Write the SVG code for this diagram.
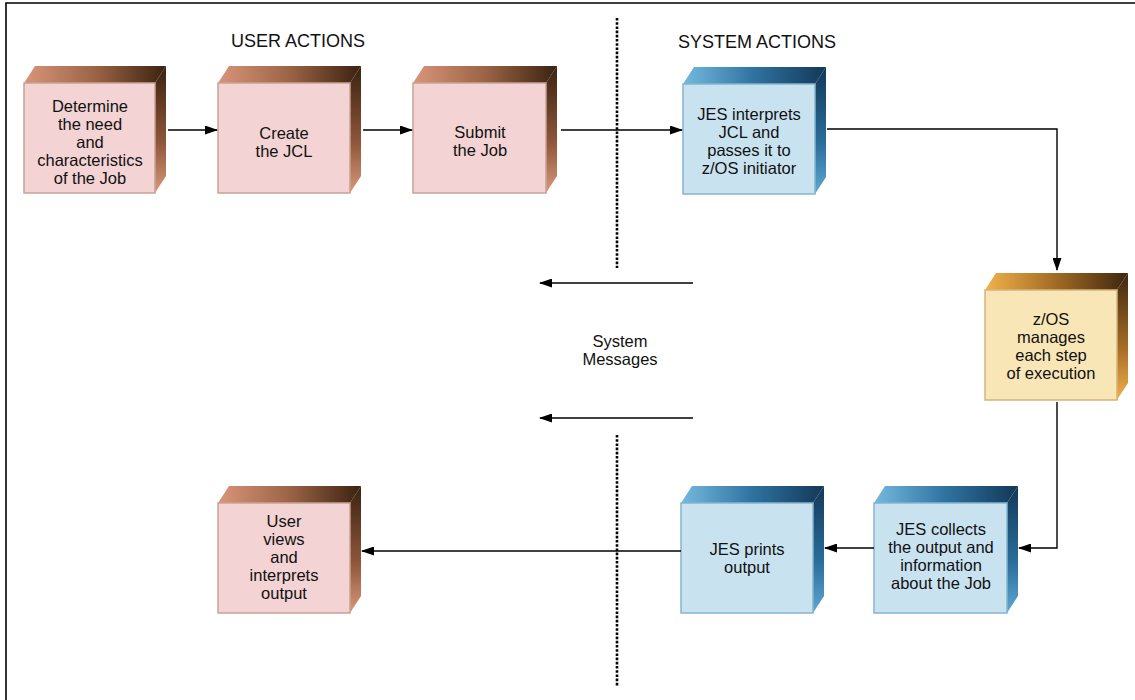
<svg xmlns="http://www.w3.org/2000/svg" width="1135" height="700" viewBox="0 0 1135 700">
<defs>
  <linearGradient id="pTop" x1="0" y1="0" x2="1" y2="0">
    <stop offset="0" stop-color="#D9957A"/>
    <stop offset="0.5" stop-color="#9C6446"/>
    <stop offset="1" stop-color="#3A2210"/>
  </linearGradient>
  <linearGradient id="pSide" x1="0" y1="0" x2="0" y2="1">
    <stop offset="0" stop-color="#3A2210"/>
    <stop offset="0.6" stop-color="#8E563A"/>
    <stop offset="1" stop-color="#D9987A"/>
  </linearGradient>
  <linearGradient id="bTop" x1="0" y1="0" x2="1" y2="0">
    <stop offset="0" stop-color="#74BADF"/>
    <stop offset="0.5" stop-color="#2F72A0"/>
    <stop offset="1" stop-color="#123858"/>
  </linearGradient>
  <linearGradient id="bSide" x1="0" y1="0" x2="0" y2="1">
    <stop offset="0" stop-color="#123858"/>
    <stop offset="0.6" stop-color="#2A6E9C"/>
    <stop offset="1" stop-color="#5FA8D2"/>
  </linearGradient>
  <linearGradient id="yTop" x1="0" y1="0" x2="1" y2="0">
    <stop offset="0" stop-color="#F2B24A"/>
    <stop offset="0.5" stop-color="#A06A24"/>
    <stop offset="1" stop-color="#3E2610"/>
  </linearGradient>
  <linearGradient id="ySide" x1="0" y1="0" x2="0" y2="1">
    <stop offset="0" stop-color="#3E2610"/>
    <stop offset="0.6" stop-color="#A86E26"/>
    <stop offset="1" stop-color="#F2B04A"/>
  </linearGradient>
  <marker id="arr" markerWidth="13" markerHeight="9" refX="12" refY="4.5" orient="auto" markerUnits="userSpaceOnUse">
    <path d="M0,0 L13,4.5 L0,9 z" fill="#000"/>
  </marker>
</defs>
<style>
  .t { font-family: "Liberation Sans", Arial, sans-serif; font-size: 16.5px; fill: #111; text-anchor: middle; }
  .h { font-family: "Liberation Sans", Arial, sans-serif; font-size: 18px; fill: #111; text-anchor: middle; }
  .pf { fill: #F3D3D3; stroke: #C9A295; stroke-width: 1.5; }
  .bf { fill: #C9E2F0; stroke: #86B4CC; stroke-width: 1.5; }
  .yf { fill: #F8E6B6; stroke: #D2B57A; stroke-width: 1.5; }
  .pt { fill: url(#pTop); } .ps { fill: url(#pSide); }
  .bt { fill: url(#bTop); } .bs { fill: url(#bSide); }
  .yt { fill: url(#yTop); } .ys { fill: url(#ySide); }
  .c { fill: none; stroke: #000; stroke-width: 1.4; }
  .dot { fill: none; stroke: #000; stroke-width: 2.6; stroke-dasharray: 2.6 1.6; }
</style>
<rect width="1135" height="700" fill="#fff"/>
<path d="M6,700 V3 H1135" fill="none" stroke="#000" stroke-width="1.6"/>

<g id="labels">
  <text class="h" x="298" y="47">USER ACTIONS</text>
  <text class="h" x="757" y="48">SYSTEM ACTIONS</text>
  <text class="t" x="620" y="347">System</text>
  <text class="t" x="620" y="365">Messages</text>
</g>

<g id="divider">
  <line class="dot" x1="617" y1="18" x2="617" y2="268"/>
  <line class="dot" x1="617" y1="435" x2="617" y2="686"/>
</g>

<g id="n1">
  <polygon class="pt" points="24,83 35,66 166,66 155,83"/>
  <polygon class="ps" points="155,83 166,66 166,176 155,193"/>
  <rect class="pf" x="24" y="83" width="131" height="110"/>
  <text class="t" x="90" y="112">Determine</text>
  <text class="t" x="90" y="130">the need</text>
  <text class="t" x="90" y="148">and</text>
  <text class="t" x="90" y="166">characteristics</text>
  <text class="t" x="90" y="184">of the Job</text>
</g>
<g id="n2">
  <polygon class="pt" points="218,83 229,66 361,66 350,83"/>
  <polygon class="ps" points="350,83 361,66 361,176 350,193"/>
  <rect class="pf" x="218" y="83" width="132" height="110"/>
  <text class="t" x="284" y="139">Create</text>
  <text class="t" x="284" y="157">the JCL</text>
</g>
<g id="n3">
  <polygon class="pt" points="413,83 424,66 557,66 546,83"/>
  <polygon class="ps" points="546,83 557,66 557,176 546,193"/>
  <rect class="pf" x="413" y="83" width="133" height="110"/>
  <text class="t" x="480" y="138">Submit</text>
  <text class="t" x="480" y="156">the Job</text>
</g>
<g id="n4">
  <polygon class="bt" points="683,84 694,67 826,67 815,84"/>
  <polygon class="bs" points="815,84 826,67 826,177 815,194"/>
  <rect class="bf" x="683" y="84" width="132" height="110"/>
  <text class="t" x="749" y="120">JES interprets</text>
  <text class="t" x="749" y="138">JCL and</text>
  <text class="t" x="749" y="156">passes it to</text>
  <text class="t" x="749" y="174">z/OS initiator</text>
</g>
<g id="n5">
  <polygon class="yt" points="985,290 996,273 1128,273 1117,290"/>
  <polygon class="ys" points="1117,290 1128,273 1128,383 1117,400"/>
  <rect class="yf" x="985" y="290" width="132" height="110"/>
  <text class="t" x="1051" y="325">z/OS</text>
  <text class="t" x="1051" y="343">manages</text>
  <text class="t" x="1051" y="361">each step</text>
  <text class="t" x="1051" y="379">of execution</text>
</g>
<g id="n6">
  <polygon class="bt" points="681,503 692,486 824,486 813,503"/>
  <polygon class="bs" points="813,503 824,486 824,596 813,613"/>
  <rect class="bf" x="681" y="503" width="132" height="110"/>
  <text class="t" x="747" y="555">JES prints</text>
  <text class="t" x="747" y="573">output</text>
</g>
<g id="n7">
  <polygon class="bt" points="874,503 885,486 1018,486 1007,503"/>
  <polygon class="bs" points="1007,503 1018,486 1018,596 1007,613"/>
  <rect class="bf" x="874" y="503" width="133" height="110"/>
  <text class="t" x="941" y="535">JES collects</text>
  <text class="t" x="941" y="553">the output and</text>
  <text class="t" x="941" y="571">information</text>
  <text class="t" x="941" y="589">about the Job</text>
</g>
<g id="n8">
  <polygon class="pt" points="218,503 229,486 361,486 350,503"/>
  <polygon class="ps" points="350,503 361,486 361,596 350,613"/>
  <rect class="pf" x="218" y="503" width="132" height="110"/>
  <text class="t" x="284" y="527">User</text>
  <text class="t" x="284" y="545">views</text>
  <text class="t" x="284" y="563">and</text>
  <text class="t" x="284" y="581">interprets</text>
  <text class="t" x="284" y="599">output</text>
</g>

<g id="connectors">
  <line class="c" x1="168" y1="130" x2="217" y2="130" marker-end="url(#arr)"/>
  <line class="c" x1="363" y1="130" x2="412" y2="130" marker-end="url(#arr)"/>
  <line class="c" x1="561" y1="130" x2="682" y2="130" marker-end="url(#arr)"/>
  <polyline class="c" points="827,129 1057,129 1057,270" marker-end="url(#arr)"/>
  <polyline class="c" points="1057,402 1057,548 1019,548" marker-end="url(#arr)"/>
  <line class="c" x1="874" y1="548" x2="825" y2="548" marker-end="url(#arr)"/>
  <line class="c" x1="681" y1="551" x2="362" y2="551" marker-end="url(#arr)"/>
  <line class="c" x1="693" y1="283" x2="540" y2="283" marker-end="url(#arr)"/>
  <line class="c" x1="693" y1="418" x2="540" y2="418" marker-end="url(#arr)"/>
</g>
</svg>
